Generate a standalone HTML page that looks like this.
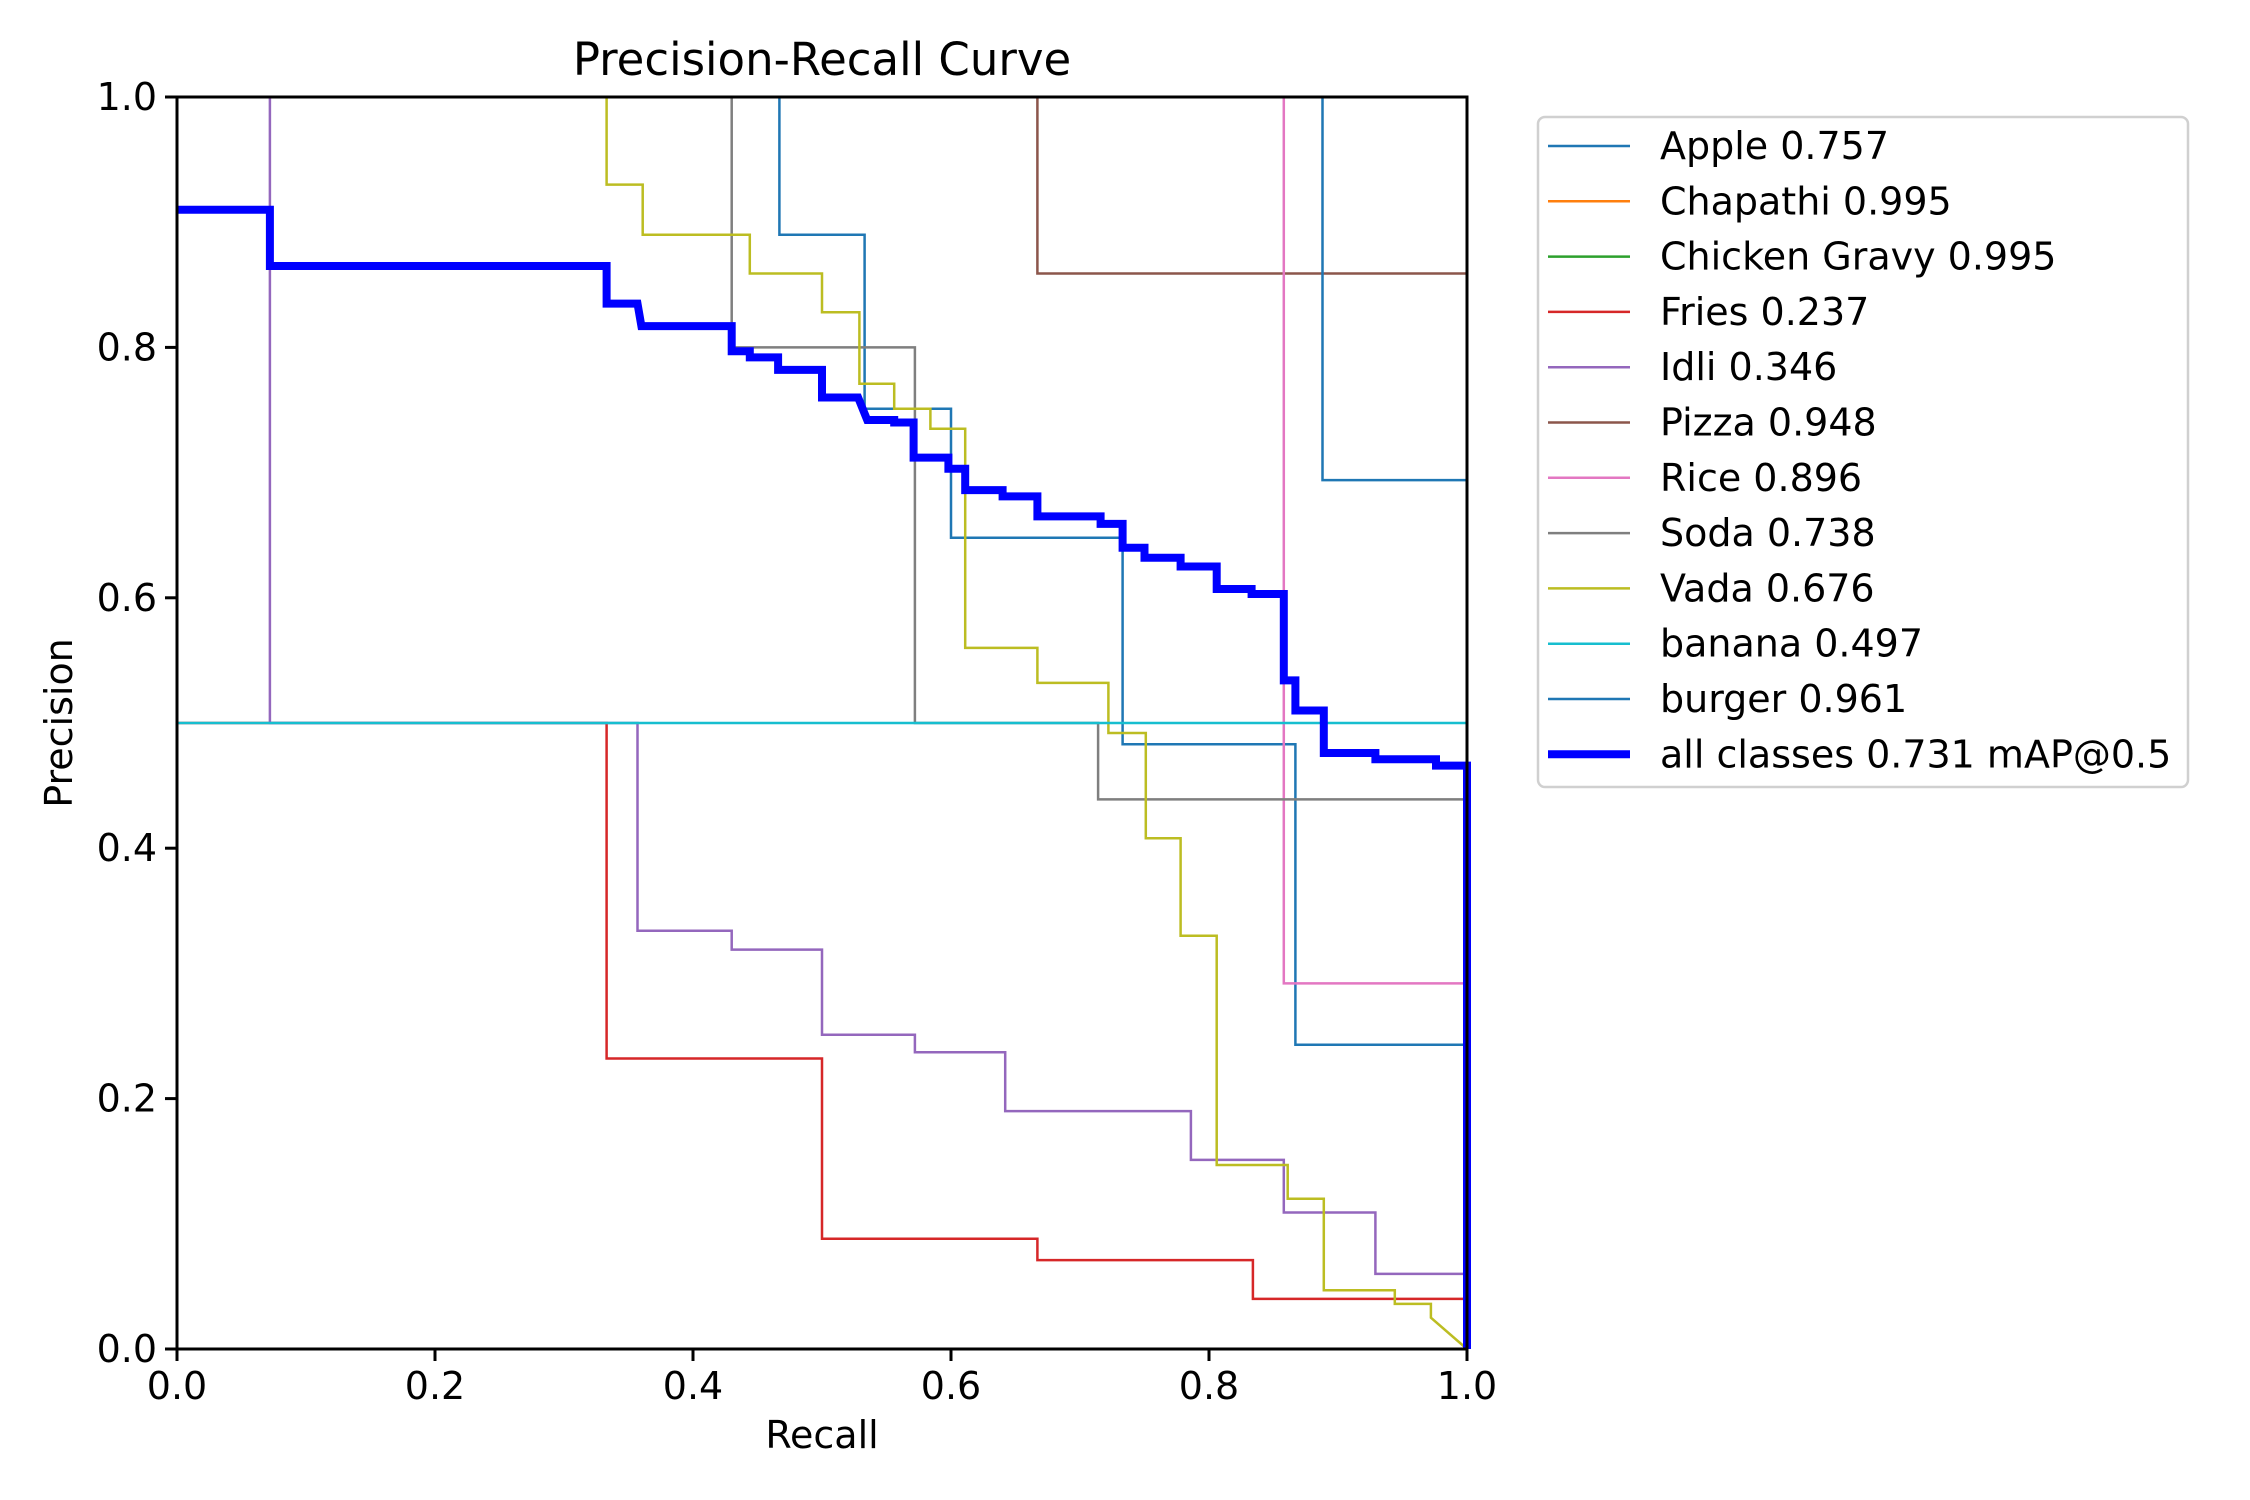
<!DOCTYPE html>
<html><head><meta charset="utf-8"><style>
html,body{margin:0;padding:0;background:#fff}
svg{display:block;font-family:"DejaVu Sans","Liberation Sans",sans-serif}
</style></head><body>
<svg id="chart" width="2250" height="1500" viewBox="0 0 2250 1500">
<rect width="2250" height="1500" fill="#fff"/>
<g id="series"></g>
<g id="axes"></g>
<g id="legend"></g>
</svg>
<script>
const classNames = ["Apple 0.757","Chapathi 0.995","Chicken Gravy 0.995","Fries 0.237","Idli 0.346","Pizza 0.948","Rice 0.896","Soda 0.738","Vada 0.676","banana 0.497","burger 0.961","all classes 0.731 mAP@0.5"];
const classColors = ["#1f77b4","#ff7f0e","#2ca02c","#d62728","#9467bd","#8c564b","#e377c2","#7f7f7f","#bcbd22","#17becf","#1f77b4","#0000ff"];
const appleR = [0.467,0.467,0.533,0.533,0.6,0.6,0.733,0.733,0.867,0.867,1,1];
const appleP = [1,0.89,0.89,0.751,0.751,0.648,0.648,0.483,0.483,0.243,0.243,0];
const chapR = [0,1,1];
const chapP = [1,1,0];
const chickR = [0,1,1];
const chickP = [1,1,0];
const friesR = [0,0.333,0.333,0.5,0.5,0.667,0.667,0.834,0.834,1,1];
const friesP = [0.5,0.5,0.232,0.232,0.088,0.088,0.071,0.071,0.04,0.04,0];
const idliR = [0,0.072,0.072,0.357,0.357,0.43,0.43,0.5,0.5,0.572,0.572,0.642,0.642,0.786,0.786,0.858,0.858,0.929,0.929,1,1];
const idliP = [1,1,0.5,0.5,0.334,0.334,0.319,0.319,0.251,0.251,0.237,0.237,0.19,0.19,0.151,0.151,0.109,0.109,0.06,0.06,0];
const pizzaR = [0,0.667,0.667,1,1];
const pizzaP = [1,1,0.859,0.859,0];
const riceR = [0,0.858,0.858,1,1];
const riceP = [1,1,0.292,0.292,0];
const sodaR = [0,0.43,0.43,0.572,0.572,0.714,0.714,1,1];
const sodaP = [1,1,0.8,0.8,0.5,0.5,0.439,0.439,0];
const vadaR = [0,0.333,0.333,0.361,0.361,0.444,0.444,0.5,0.5,0.529,0.529,0.556,0.556,0.584,0.584,0.611,0.611,0.667,0.667,0.722,0.722,0.751,0.751,0.778,0.778,0.806,0.806,0.861,0.861,0.889,0.889,0.944,0.944,0.972,0.972,1];
const vadaP = [1,1,0.93,0.93,0.89,0.89,0.859,0.859,0.828,0.828,0.771,0.771,0.751,0.751,0.735,0.735,0.56,0.56,0.532,0.532,0.492,0.492,0.408,0.408,0.33,0.33,0.147,0.147,0.12,0.12,0.047,0.047,0.036,0.036,0.025,0];
const bananaR = [0,1,1];
const bananaP = [0.5,0.5,0];
const burgerR = [0,0.888,0.888,1,1];
const burgerP = [1,1,0.694,0.694,0];
const allR = [0,0.072,0.072,0.333,0.333,0.357,0.36,0.43,0.43,0.444,0.444,0.466,0.466,0.5,0.5,0.528,0.535,0.556,0.556,0.571,0.571,0.598,0.598,0.611,0.611,0.64,0.64,0.667,0.667,0.716,0.716,0.733,0.733,0.75,0.75,0.778,0.778,0.806,0.806,0.833,0.833,0.858,0.858,0.867,0.867,0.889,0.889,0.929,0.929,0.976,0.976,1,1];
const allP = [0.91,0.91,0.865,0.865,0.835,0.835,0.817,0.817,0.797,0.797,0.792,0.792,0.782,0.782,0.76,0.76,0.742,0.742,0.74,0.74,0.712,0.712,0.703,0.703,0.686,0.686,0.681,0.681,0.665,0.665,0.659,0.659,0.64,0.64,0.632,0.632,0.625,0.625,0.607,0.607,0.603,0.603,0.534,0.534,0.51,0.51,0.476,0.476,0.471,0.471,0.466,0.466,0];
const seriesR = [appleR,chapR,chickR,friesR,idliR,pizzaR,riceR,sodaR,vadaR,bananaR,burgerR,allR];
const seriesP = [appleP,chapP,chickP,friesP,idliP,pizzaP,riceP,sodaP,vadaP,bananaP,burgerP,allP];
const seriesKeys = ["apple","chapathi","chicken-gravy","fries","idli","pizza","rice","soda","vada","banana","burger","all-classes"];
const xTicks = [0,0.2,0.4,0.6,0.8,1.0];
const yTicks = [0,0.2,0.4,0.6,0.8,1.0];
const xTickLabels = ["0.0","0.2","0.4","0.6","0.8","1.0"];
const yTickLabels = ["0.0","0.2","0.4","0.6","0.8","1.0"];

const X0=177,X1=1467,Y0=1349,Y1=97;
const FS=38;
const sx=v=>X0+v*(X1-X0);
const sy=v=>Y0-v*(Y0-Y1);
const NS="http://www.w3.org/2000/svg";
function mk(tag,attrs,parent){const e=document.createElementNS(NS,tag);for(const k in attrs)e.setAttribute(k,attrs[k]);parent.appendChild(e);return e;}

const sg=document.getElementById('series');
seriesR.forEach((rs,i)=>{
  const pts=rs.map((r,j)=>sx(r).toFixed(1)+","+sy(seriesP[i][j]).toFixed(1)).join(" ");
  const pl=mk('polyline',{points:pts,fill:'none',stroke:classColors[i],'stroke-width':i===11?8:2.5,'stroke-linejoin':'miter'},sg);
  
  
});

const ag=document.getElementById('axes');
const frame=mk('rect',{x:X0,y:Y1,width:X1-X0,height:Y0-Y1,fill:'none',stroke:'#000','stroke-width':3},ag);


xTicks.forEach((t,i)=>{
  const tk=mk('line',{x1:sx(t),x2:sx(t),y1:Y0,y2:Y0+12,stroke:'#000','stroke-width':3},ag);
  
  
  const tx=mk('text',{x:sx(t),y:Y0+50,'font-size':FS,'text-anchor':'middle'},ag);
  tx.textContent=xTickLabels[i];
  
  
});
yTicks.forEach((t,i)=>{
  const tk=mk('line',{x1:X0-12,x2:X0,y1:sy(t),y2:sy(t),stroke:'#000','stroke-width':3},ag);
  
  
  const tx=mk('text',{x:X0-20,y:sy(t)+13,'font-size':FS,'text-anchor':'end'},ag);
  tx.textContent=yTickLabels[i];
  
  
});
const title=mk('text',{x:(X0+X1)/2,y:75,'font-size':45,'text-anchor':'middle'},ag);
title.textContent="Precision-Recall Curve";


const xl=mk('text',{x:(X0+X1)/2,y:1448,'font-size':FS,'text-anchor':'middle'},ag);
xl.textContent="Recall";


const yl=mk('text',{x:0,y:0,'font-size':FS,'text-anchor':'middle',transform:`translate(72,${(Y0+Y1)/2}) rotate(-90)`},ag);
yl.textContent="Precision";



const lg=document.getElementById('legend');
const box=mk('rect',{x:1538,y:117,width:650,height:670,rx:7,fill:'#fff',stroke:'#d0d0d0','stroke-width':2.5},lg);


classNames.forEach((n,i)=>{
  const y=146+i*55.3;
  const ln=mk('line',{x1:1548,x2:1630,y1:y,y2:y,stroke:classColors[i],'stroke-width':i===11?8:2.5},lg);
  
  
  const tx=mk('text',{x:1660,y:y+13,'font-size':FS},lg);
  tx.textContent=n;
  
  
});
</script>
</body></html>
